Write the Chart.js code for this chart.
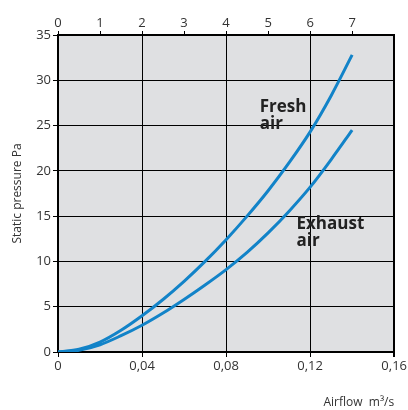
<!DOCTYPE html>
<html>
<head>
<meta charset="utf-8">
<script src="https://cdn.jsdelivr.net/npm/chart.js@4/dist/chart.umd.min.js"></script>
<style>
  html, body { margin: 0; padding: 0; background: #fff; }
  #box { width: 408px; height: 410px; }
</style>
</head>
<body>
<div id="box"><canvas id="fanChart"></canvas></div>
<script>
// data (airflow m3/s -> static pressure Pa)
const airflow = [0, 0.01, 0.02, 0.03, 0.04, 0.05, 0.06, 0.07, 0.08, 0.09, 0.10, 0.11, 0.12, 0.13, 0.14];
const freshAir = [0, 0.3, 1.1, 2.4, 4.0, 5.8, 7.8, 10.0, 12.4, 15.0, 17.8, 20.9, 24.3, 28.3, 32.8];
const exhaustAir = [0, 0.2, 0.8, 1.8, 2.95, 4.3, 5.8, 7.4, 9.1, 11.0, 13.15, 15.55, 18.2, 21.25, 24.5];
const yTicks = [0, 5, 10, 15, 20, 25, 30, 35];
const topTicks = [0, 1, 2, 3, 4, 5, 6, 7];

const lineBlue = "#1283c8";
const textCol = "#333333";

// label positions in data units
const labels = [
  { lines: ["Fresh", "air"], x: 0.096, y: 26.5 },
  { lines: ["Exhaust", "air"], x: 0.1135, y: 13.6 },
];

const plotBg = {
  id: "plotBg",
  beforeDraw(chart) {
    const { ctx, chartArea: a } = chart;
    ctx.save();
    ctx.fillStyle = "#dfe0e2";
    ctx.fillRect(a.left, a.top, a.right - a.left, a.bottom - a.top);
    ctx.restore();
  },
};

const curveLabels = {
  id: "curveLabels",
  afterDatasetsDraw(chart) {
    const { ctx, scales } = chart;
    ctx.save();
    ctx.fillStyle = "#222";
    ctx.font = "bold 17px 'Open Sans'";
    ctx.textBaseline = "alphabetic";
    labels.forEach((l) => {
      const px = scales.x.getPixelForValue(l.x);
      const py = scales.y.getPixelForValue(l.y);
      l.lines.forEach((t, i) => ctx.fillText(t, px, py + i * 17));
    });
    ctx.restore();
  },
};

const mk = (vals) => airflow.map((x, i) => ({ x: x, y: vals[i] }));

const chartConfig = {
  type: "line",
  data: {
    datasets: [
      { label: "Fresh air", data: mk(freshAir), borderColor: lineBlue, borderWidth: 3, pointRadius: 0, cubicInterpolationMode: "monotone" },
      { label: "Exhaust air", data: mk(exhaustAir), borderColor: lineBlue, borderWidth: 3, pointRadius: 0, cubicInterpolationMode: "monotone" },
    ],
  },
  options: {
    responsive: true,
    maintainAspectRatio: false,
    animation: false,
    layout: { padding: { left: 0, right: 13, top: 0, bottom: 0 } },
    plugins: { legend: { display: false }, tooltip: { enabled: false } },
    scales: {
      x: {
        type: "linear",
        position: "bottom",
        min: 0,
        max: 0.16,
        afterBuildTicks: (s) => { s.ticks = [0, 0.04, 0.08, 0.12, 0.16].map((v) => ({ value: v })); },
        afterFit: (s) => { s.height = 58; },
        ticks: {
          color: textCol,
          font: { family: "'Open Sans'", size: 13 },
          padding: 1,
          maxRotation: 0,
          callback: (v) => (v === 0 ? "0" : v.toFixed(2).replace(".", ",")),
        },
        grid: { color: "#000", lineWidth: (c) => (c.index === 4 ? 2 : 1), tickLength: 5, tickColor: "#000" },
        border: { color: "#000", width: 2 },
        title: {
          display: true,
          text: "Airflow  m³/s",
          align: "end",
          color: textCol,
          font: { family: "'Open Sans'", size: 12 },
          padding: { top: 14, bottom: 0 },
        },
      },
      x2: {
        type: "linear",
        position: "top",
        min: 0,
        max: 8,
        afterBuildTicks: (s) => { s.ticks = topTicks.map((v) => ({ value: v })); },
        afterFit: (s) => { s.height = 35; },
        ticks: { color: textCol, font: { family: "'Open Sans'", size: 13 }, padding: 0, maxRotation: 0 },
        grid: { drawOnChartArea: false, tickLength: 4, tickColor: "#000" },
        border: { color: "#000", width: 2 },
      },
      y: {
        min: 0,
        max: 35,
        afterBuildTicks: (s) => { s.ticks = yTicks.map((v) => ({ value: v })); },
        afterFit: (s) => { s.width = 58; },
        ticks: { color: textCol, font: { family: "'Open Sans'", size: 13 }, padding: 2 },
        grid: { color: "#000", lineWidth: 1, tickLength: 5, tickColor: "#000" },
        border: { color: "#000", width: 2 },
        title: {
          display: true,
          text: "Static pressure Pa",
          color: textCol,
          font: { family: "'Open Sans'", size: 12 },
          padding: { top: 10, bottom: 0 },
        },
      },
    },
  },
  plugins: [plotBg, curveLabels],
};

const fanChart = new Chart(document.getElementById("fanChart"), chartConfig);
</script>
</body>
</html>
